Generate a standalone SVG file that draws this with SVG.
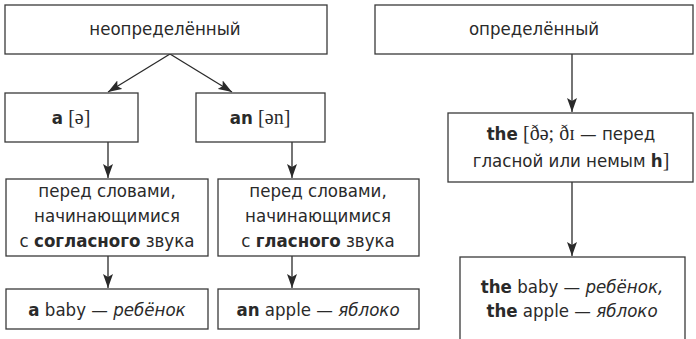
<svg xmlns="http://www.w3.org/2000/svg" width="696" height="339" viewBox="0 0 696 339">
<defs>
<marker id="ah" viewBox="0 0 14 10" refX="14" refY="5" markerWidth="14" markerHeight="10" markerUnits="userSpaceOnUse" orient="auto">
<path d="M0,0 L14,5 L0,10 L3,5 Z" fill="#2a2a2a"/>
</marker>
<style>
rect{fill:#fff;stroke:#3a3a3a;stroke-width:1.3}
.c line{stroke:#2a2a2a;stroke-width:1.3;marker-end:url(#ah)}
text{font-family:"DejaVu Sans Condensed","DejaVu Sans",sans-serif;font-stretch:condensed;font-size:18.5px;fill:#2a2a2a;text-anchor:middle}
.b{font-weight:bold}
.i{font-style:italic}
.s{font-family:"Liberation Serif","DejaVu Serif",serif;font-size:20px;font-stretch:normal}
</style>
</defs>
<rect x="0" y="0" width="696" height="339" style="fill:#fff;stroke:none"/>
<g class="c">
<line x1="170" y1="54" x2="108" y2="92"/>
<line x1="170" y1="54" x2="232" y2="92"/>
<line x1="108" y1="142" x2="108" y2="178"/>
<line x1="292" y1="142" x2="292" y2="178"/>
<line x1="108" y1="256" x2="108" y2="288"/>
<line x1="292" y1="256" x2="292" y2="288"/>
<line x1="572" y1="54" x2="572" y2="112"/>
<line x1="572" y1="182" x2="572" y2="256"/>
</g>
<g id="indef"><rect x="5" y="5" width="322" height="49"/><text x="165" y="35">неопределённый</text></g>
<g id="a"><rect x="5" y="93" width="133" height="49"/><text x="71" y="124"><tspan class="b">a</tspan> <tspan class="s">[ə]</tspan></text></g>
<g id="an"><rect x="196" y="93" width="129" height="49"/><text x="260" y="124"><tspan class="b">an</tspan> <tspan class="s">[ən]</tspan></text></g>
<g id="cons"><rect x="6" y="179" width="202" height="77"/><text x="107" y="197">перед словами,</text><text x="107" y="222">начинающимися</text><text x="107" y="247">с <tspan class="b">согласного</tspan> звука</text></g>
<g id="vow"><rect x="218" y="179" width="201" height="77"/><text x="318" y="197">перед словами,</text><text x="318" y="222">начинающимися</text><text x="318" y="247">с <tspan class="b">гласного</tspan> звука</text></g>
<g id="ababy"><rect x="6" y="289" width="202" height="40"/><text x="107" y="316"><tspan class="b">a</tspan> baby — <tspan class="i">ребёнок</tspan></text></g>
<g id="anapple"><rect x="218" y="289" width="201" height="40"/><text x="318" y="316"><tspan class="b">an</tspan> apple — <tspan class="i">яблоко</tspan></text></g>
<g id="def"><rect x="375" y="5" width="318" height="49"/><text x="534" y="35">определённый</text></g>
<g id="the"><rect x="448" y="113" width="245" height="69"/><text x="571" y="140"><tspan class="b">the</tspan> <tspan class="s">[ðə; ðɪ</tspan> — перед</text><text x="571" y="167">гласной или немым <tspan class="b">h</tspan><tspan class="s">]</tspan></text></g>
<g id="theex"><rect x="460" y="257" width="225" height="90"/><text x="572" y="293"><tspan class="b">the</tspan> baby — <tspan class="i">ребёнок,</tspan></text><text x="572" y="317"><tspan class="b">the</tspan> apple — <tspan class="i">яблоко</tspan></text></g>
</svg>
